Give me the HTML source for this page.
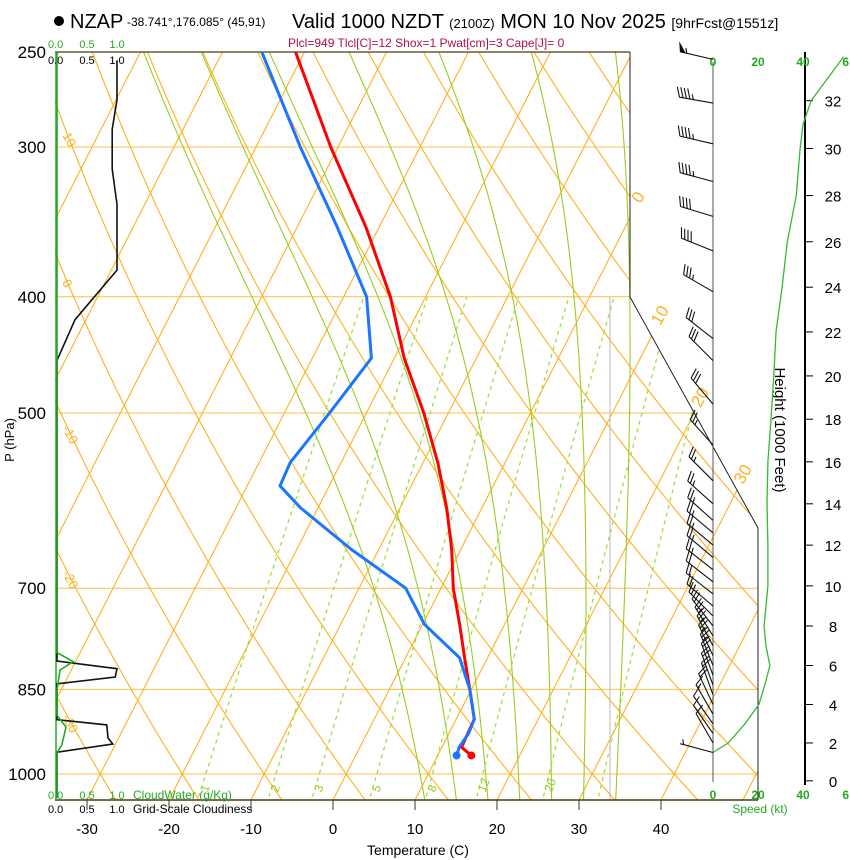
<!DOCTYPE html>
<html><head><meta charset="utf-8">
<style>
html,body{margin:0;padding:0;background:#fff;}
svg{display:block;font-family:"Liberation Sans",Arial,sans-serif;}
</style></head>
<body>
<svg id="chart" width="850" height="860" viewBox="0 0 850 860" xmlns="http://www.w3.org/2000/svg">
<defs><clipPath id="plotclip"><polygon points="55,52 630,52 630,297 758,528 758,800 55,800"/></clipPath></defs>
<g>
<circle cx="59" cy="21" r="5" fill="#000"/>
<text x="70" y="28" font-size="20">NZAP</text>
<text x="127" y="26" font-size="12">-38.741°,176.085° (45,91)</text>
<text x="292" y="28" font-size="20">Valid 1000 NZDT <tspan font-size="13">(2100Z)</tspan> MON 10 Nov 2025 <tspan font-size="14">[9hrFcst@1551z]</tspan></text>
<text x="288" y="47" font-size="12" fill="#b0104a">Plcl=949 Tlcl[C]=12 Shox=1 Pwat[cm]=3 Cape[J]= 0</text>
</g>
<g id="grid" clip-path="url(#plotclip)"></g>
<g id="over"></g>
</svg>
<script>
// ---- data ----
const profP = [250,300,350,400,450,500,550,575,600,650,700,750,800,850,900,925,950,965];
const tempC = [-51.1,-40.9,-31.6,-24.3,-18.8,-13.0,-8.2,-6.2,-4.3,-1.1,1.5,4.5,7.2,9.8,12.2,12.3,12.4,14.1];
const dewC  = [-55.2,-44.6,-35.1,-27.2,-22.8,-24.5,-26.2,-26.0,-22.1,-13.3,-4.3,0.2,6.6,9.8,12.2,12.4,12.1,12.3];
const pressureTicks = [250,300,400,500,700,850,1000];
const tempTicks = [-30,-20,-10,0,10,20,30,40];
const isothermVals = [-110,-100,-90,-80,-70,-60,-50,-40,-30,-20,-10,0,10,20,30,40,50];
const isothermLabels = [0,10,20,30];
const thetaVals = [-40,-30,-20,-10,0,10,20,30,40,50,60,70,80,90,100,110,120,130];
const thetaLabels = [10,0,-10,-20,-30];
const thetaWVals = [9,13,17,21,25,29,33];
const mixVals = [1,2,3,5,8,12,20,30];
const mixLabels = [1,2,3,5,8,12,20];
const cloudFracP = [254,274,290,313,335,380,418,452,805,817,830,841,901,910,933,944,959,1047];
const cloudFrac  = [1.0,1.0,0.92,0.92,1.0,1.0,0.3,0.0,0.0,1.0,0.97,0.0,0.0,0.83,0.85,0.93,0.0,0.0];
const cloudWaterP = [250,792,806,819,851,893,914,946,960,1047];
const cloudWater  = [0,0,0.27,0.05,0,0,0.15,0.08,0,0];
const barbHt  = [33.7,31.9,30.2,28.6,27.1,25.6,23.8,21.7,20.7,18.7,16.8,15.1,14.0,13.2,12.6,12.0,11.4,10.8,10.2,9.6,9.0,8.5,8.0,7.5,7.0,6.5,6.0,5.5,5.0,4.5,4.0,3.5,3.0,2.5,2.0,1.5];
const barbSpd = [55,45,45,45,40,40,35,30,30,28,27,26,25,25,24,24,23,23,22,22,22,22,21,23,25,24,23,22,22,20,18,15,12,10,8,5];
const barbDir = [283,280,283,285,287,292,300,308,315,320,318,315,312,312,310,310,310,308,308,308,310,315,322,328,332,335,338,340,340,340,335,330,325,325,330,285];
const spdHt = [1.5,2,3,4,5,6,7,8,10,12,14,16,18,20,22,24,26,28,30,31,32,33.8];
const spdKt = [0,6.7,14.2,20.4,23,25.3,23.5,22.7,24.4,24.4,24,24.4,25.8,27,28,30.7,33,37,38.7,40,43.6,58];
const heightTicks = [0,2,4,6,8,10,12,14,16,18,20,22,24,26,28,30,32];

// ---- scales ----
const Y0=774, KY=520.8, SK=0.51, XT=8.2, X0=333, YB=800;
function yP(p){return Y0-KY*Math.log(1000/p);}
function xT(T,p){return X0+XT*T+SK*(YB-yP(p));}
function pY(y){return 1000*Math.exp(-(Y0-y)/KY);}
function xCloud(v){return 57+60*v;}
function xSpd(s){return 713+2.25*s;}
function yHt(h){const p=1013.25*Math.pow(1-6.8756e-6*h*1000,5.2559);return yP(p);}
function es(T){return 6.112*Math.exp(17.67*T/(T+243.5));}
function tdFromMix(w,p){const e=w*p/(622+w);const l=Math.log(e/6.112);return 243.5*l/(17.67-l);}

const NS='http://www.w3.org/2000/svg';
const grid=document.getElementById('grid'), over=document.getElementById('over');
function el(tag,attrs,parent){const e=document.createElementNS(NS,tag);for(const k in attrs)e.setAttribute(k,attrs[k]);parent.appendChild(e);return e;}
function pathD(pts){return pts.map((q,i)=>(i?'L':'M')+q[0].toFixed(1)+','+q[1].toFixed(1)).join('');}

// isobars
pressureTicks.forEach(p=>{
  const l=el('line',{x1:55,x2:760,y1:yP(p),y2:yP(p),stroke:'#f8c048','stroke-width':1},grid);
  
  
});
// isotherms
isothermVals.forEach(T=>{
  const l=el('line',{x1:xT(T,1060),y1:yP(1060),x2:xT(T,240),y2:yP(240),stroke:'#ffb020','stroke-width':1.1},grid);
  
  
});
// dry adiabats
thetaVals.forEach(th=>{
  const pts=[];for(let p=1060;p>=240;p-=10){const T=(th+273.15)*Math.pow(p/1000,0.2857)-273.15;pts.push([xT(T,p),yP(p)]);}
  const l=el('path',{d:pathD(pts),fill:'none',stroke:'#ffb020','stroke-width':1.1},grid);
  
  
});
// moist adiabats
function dTdp(p,T){const Tk=T+273.15,e=es(T),rs=0.622*e/(p-e);const num=287*Tk+2.5e6*rs;const den=1005+2.5e6*2.5e6*rs*0.622/(287*Tk*Tk);return num/den/p;}
thetaWVals.forEach(tw=>{
  const up=[];let T=tw;for(let p=1000;p>=245;p-=5){up.push([xT(T,p),yP(p)]);T-=dTdp(p,T)*5;}
  const dn=[];T=tw;for(let p=1000;p<=1060;p+=5){dn.unshift([xT(T,p),yP(p)]);T+=dTdp(p,T)*5;}
  const l=el('path',{d:pathD(dn.concat(up)),fill:'none',stroke:'#99cc22','stroke-width':1.1},grid);
  
  
});
// mixing ratio
mixVals.forEach(w=>{
  const pts=[];for(let p=1060;p>=400;p-=10){pts.push([xT(tdFromMix(w,p),p),yP(p)]);}
  const l=el('path',{d:pathD(pts),fill:'none',stroke:'#99dd33','stroke-width':1.2,'stroke-dasharray':'4,4'},grid);
  
  
});
mixLabels.forEach(w=>{
  const pl=1025, x=xT(tdFromMix(w,pl),pl)+6, y=yP(pl)+6;
  const t=el('text',{x:x,y:y,'font-size':12,fill:'#99cc22',transform:`rotate(-70 ${x} ${y})`},grid);
  t.textContent=w;
  
  
});
// vertical gray line
const gv=el('line',{x1:610,x2:610,y1:297,y2:800,stroke:'#bbb','stroke-width':1},grid);



// boundary
const bd=el('polyline',{points:'630,52 630,297 758,528 758,800',fill:'none',stroke:'#222','stroke-width':1},over);


const tp=el('line',{x1:55,x2:630,y1:52,y2:52,stroke:'#4a3c10','stroke-width':1.2},over);


const bt=el('line',{x1:55,x2:758,y1:800,y2:800,stroke:'#4a3c10','stroke-width':1.5},over);


const lf=el('line',{x1:56,x2:56,y1:52,y2:800,stroke:'#22aa22','stroke-width':1.5},over);



// isotherm labels
isothermLabels.forEach((T,i)=>{
  const yy=[200,318,400,477][i]; const p=pY(yy); const x=xT(T,p)+4;
  const t=el('text',{x:x,y:yy,'font-size':17,fill:'#ffb020',transform:`rotate(-60 ${x} ${yy})`,'text-anchor':'middle'},over);
  t.textContent=T;
  
  
});
// dry adiabat labels
thetaLabels.forEach(th=>{
  let best=null;for(let p=250;p<=1000;p+=1){const T=(th+273.15)*Math.pow(p/1000,0.2857)-273.15;const x=xT(T,p);if(best===null||Math.abs(x-66)<Math.abs(best[0]-66))best=[x,yP(p)];}
  const t=el('text',{x:best[0]-4,y:best[1]+4,'font-size':13,fill:'#ffb020',transform:`rotate(62 ${best[0]-4} ${best[1]+4})`},over);
  t.textContent=th;
  
  
});

// pressure labels
pressureTicks.forEach(p=>{
  const t=el('text',{x:46,y:yP(p)+6,'font-size':17,'text-anchor':'end'},over);
  t.textContent=p;
  
  
});
const py=el('text',{x:14,y:440,'font-size':13,'text-anchor':'middle',transform:'rotate(-90 14 440)'},over);
py.textContent='P (hPa)';


// temp ticks
tempTicks.forEach(T=>{
  const x=X0+XT*T;
  const l=el('line',{x1:x,x2:x,y1:800,y2:810,stroke:'#333'},over);
  
  
  const t=el('text',{x:x,y:834,'font-size':15,'text-anchor':'middle'},over);
  t.textContent=T;
  
  
});
const xt=el('text',{x:418,y:855,'font-size':14,'text-anchor':'middle'},over);
xt.textContent='Temperature (C)';



// cloud panel labels
[['0.0',0],['0.5',0.5],['1.0',1]].forEach(a=>{
  const g1=el('text',{x:xCloud(a[1])+(a[1]==0?-9:0),y:48,'font-size':11,fill:'#22aa22','text-anchor':a[1]==0?'start':'middle'},over);
  g1.textContent=a[0];
  
  
  const b1=el('text',{x:xCloud(a[1])+(a[1]==0?-9:0),y:64,'font-size':11,fill:'#000','text-anchor':a[1]==0?'start':'middle'},over);
  b1.textContent=a[0];
  
  
  const g2=el('text',{x:xCloud(a[1])+(a[1]==0?-9:0),y:799,'font-size':11,fill:'#22aa22','text-anchor':a[1]==0?'start':'middle'},over);
  g2.textContent=a[0];
  
  
  const b2=el('text',{x:xCloud(a[1])+(a[1]==0?-9:0),y:813,'font-size':11,fill:'#000','text-anchor':a[1]==0?'start':'middle'},over);
  b2.textContent=a[0];
  
  
});
const cwl=el('text',{x:133,y:799,'font-size':12,fill:'#22aa22'},over);
cwl.textContent='CloudWater (g/Kg)';


const gsl=el('text',{x:133,y:813,'font-size':12,fill:'#000'},over);
gsl.textContent='Grid-Scale Cloudiness';



// cloud lines
const cf=el('path',{d:pathD(cloudFracP.map((p,i)=>[xCloud(cloudFrac[i]),yP(p)])),fill:'none',stroke:'#111','stroke-width':1.6},over);


const cw=el('path',{d:pathD(cloudWaterP.map((p,i)=>[xCloud(cloudWater[i]),yP(p)])),fill:'none',stroke:'#22aa22','stroke-width':1.6},over);



// profiles
const tl=el('path',{d:pathD(profP.map((p,i)=>[xT(tempC[i],p),yP(p)])),fill:'none',stroke:'#ff0000','stroke-width':3,'stroke-linejoin':'round'},over);


const dl=el('path',{d:pathD(profP.map((p,i)=>[xT(dewC[i],p),yP(p)])),fill:'none',stroke:'#1a75ff','stroke-width':3,'stroke-linejoin':'round'},over);


const sp=profP[profP.length-1];
const td=el('circle',{cx:xT(tempC[tempC.length-1],sp),cy:yP(sp),r:4,fill:'#ff0000'},over);


const dd=el('circle',{cx:xT(dewC[dewC.length-1],sp),cy:yP(sp),r:4,fill:'#1a75ff'},over);



// wind panel
const z=el('line',{x1:713,x2:713,y1:62,y2:782,stroke:'#555','stroke-width':1},over);


const ha=el('line',{x1:805,x2:805,y1:52,y2:785,stroke:'#000','stroke-width':2},over);


heightTicks.forEach(h=>{
  const y=yHt(h);
  const l=el('line',{x1:805,x2:813,y1:y,y2:y,stroke:'#000'},over);
  
  
  const t=el('text',{x:833,y:y+6,'font-size':15,'text-anchor':'middle'},over);
  t.textContent=h;
  
  
});
const ht=el('text',{x:775,y:430,'font-size':15,'text-anchor':'middle',transform:'rotate(90 775 430)'},over);
ht.textContent='Height (1000 Feet)';


[[0,'0'],[20,'20'],[40,'40'],[59,'6']].forEach(a=>{
  const t1=el('text',{x:xSpd(a[0]),y:66,'font-size':12,'font-weight':'bold',fill:'#22aa22','text-anchor':'middle'},over);
  t1.textContent=a[1];
  
  
  const t2=el('text',{x:xSpd(a[0]),y:799,'font-size':12,'font-weight':'bold',fill:'#22aa22','text-anchor':'middle'},over);
  t2.textContent=a[1];
  
  
});
const sl=el('text',{x:760,y:813,'font-size':12,fill:'#22aa22','text-anchor':'middle'},over);
sl.textContent='Speed (kt)';


const spl=el('path',{d:pathD(spdHt.map((h,i)=>[xSpd(spdKt[i]),yHt(h)])),fill:'none',stroke:'#33bb33','stroke-width':1.3},over);



// barbs
barbHt.forEach((h,i)=>{
  const bx=713, by=yHt(h), d=barbDir[i]*Math.PI/180, L=34;
  const ux=Math.sin(d), uy=-Math.cos(d);
  const nx=-uy, ny=ux;
  const tx=bx+ux*L, ty=by+uy*L;
  let dstr=`M${bx},${by.toFixed(1)}L${tx.toFixed(1)},${ty.toFixed(1)}`;
  let s=Math.round(barbSpd[i]/5)*5, pos=0;
  let fill='';
  while(s>=50){const ax=tx-ux*pos,ay=ty-uy*pos,bx2=tx-ux*(pos+6),by2=ty-uy*(pos+6);
    fill+=`M${ax.toFixed(1)},${ay.toFixed(1)}L${(ax+nx*10+ux*3).toFixed(1)},${(ay+ny*10+uy*3).toFixed(1)}L${bx2.toFixed(1)},${by2.toFixed(1)}Z`;pos+=7;s-=50;}
  while(s>=10){const ax=tx-ux*pos,ay=ty-uy*pos;dstr+=`M${ax.toFixed(1)},${ay.toFixed(1)}l${(nx*10+ux*4).toFixed(1)},${(ny*10+uy*4).toFixed(1)}`;pos+=3.5;s-=10;}
  if(s>=5){if(pos==0)pos=3.5;const ax=tx-ux*pos,ay=ty-uy*pos;dstr+=`M${ax.toFixed(1)},${ay.toFixed(1)}l${(nx*5+ux*2).toFixed(1)},${(ny*5+uy*2).toFixed(1)}`;}
  const b=el('path',{d:dstr,fill:'none',stroke:'#111','stroke-width':1.1},over);
  
  
  if(fill){const f=el('path',{d:fill,fill:'#111'},over);
    
    }
});
</script>
</body></html>
